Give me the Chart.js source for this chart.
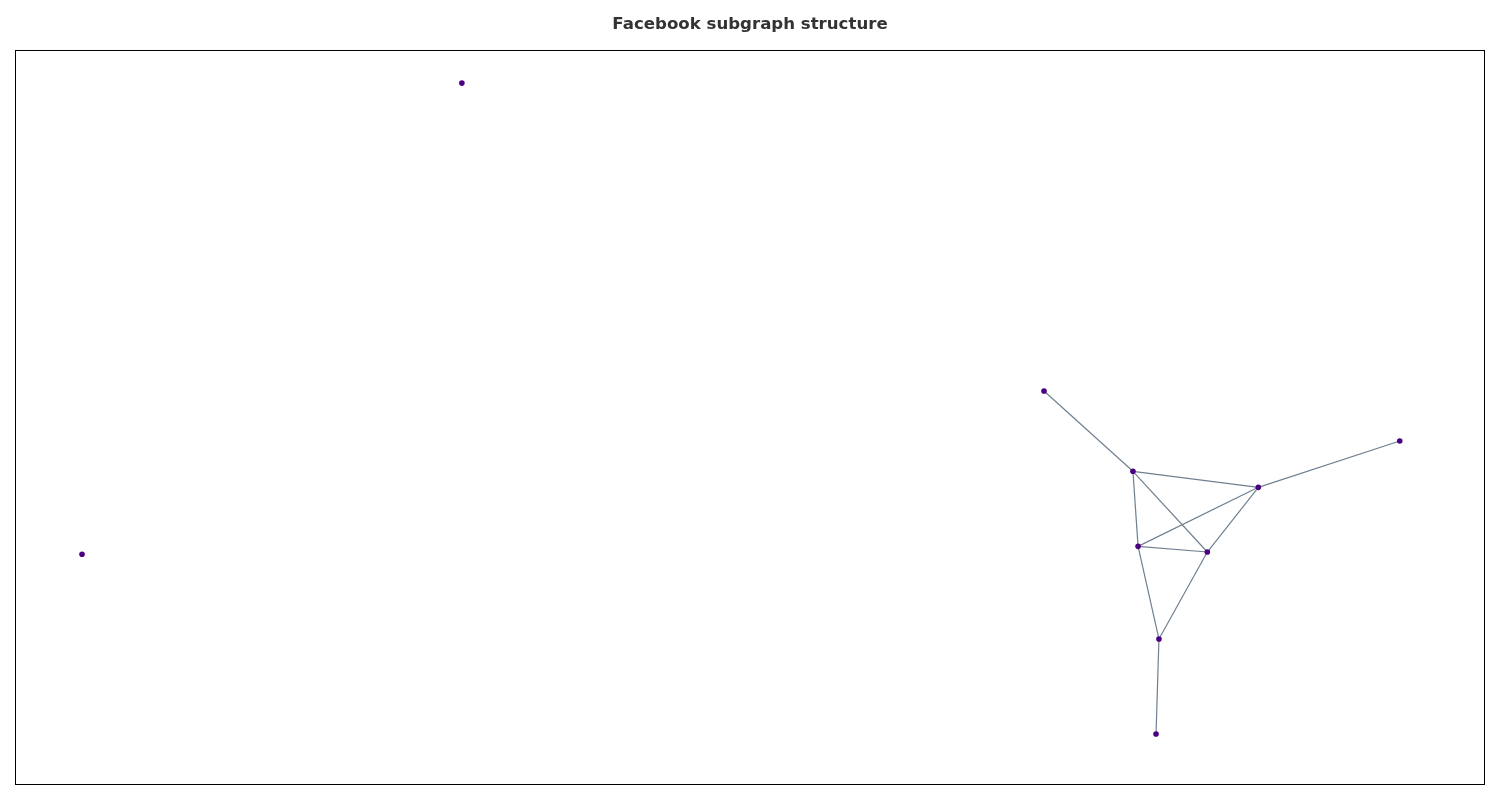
<!DOCTYPE html>
<html>
<head>
<meta charset="utf-8">
<script src="https://cdn.jsdelivr.net/npm/chart.js@4/dist/chart.umd.min.js"></script>
<style>
html,body{margin:0;padding:0;background:#fff;}
#wrap{width:1500px;height:800px;}
</style>
</head>
<body>
<div id="wrap"><canvas id="c" width="1500" height="800"></canvas></div>
<script>
// Node layout positions (normalized layout coordinates)
const nodeIds = ["A","B","C","D","E","F","G","H","I","J"];
const nodeX = [0.304, 0.0456, 0.700, 0.7605, 0.8458, 0.942, 0.7640, 0.8111, 0.7782, 0.7762];
const nodeY = [0.955, 0.314, 0.536, 0.4268, 0.4050, 0.468, 0.3247, 0.3170, 0.1986, 0.0694];
// Edges as pairs of node ids
const edgeFrom = ["C","D","D","D","E","E","E","G","G","H","I"];
const edgeTo   = ["D","E","G","H","F","G","H","H","I","I","J"];

const idx = id => nodeIds.indexOf(id);
const edgeDatasets = edgeFrom.map((f, i) => ({
  type: 'line',
  data: [{x: nodeX[idx(f)], y: nodeY[idx(f)]}, {x: nodeX[idx(edgeTo[i])], y: nodeY[idx(edgeTo[i])]}],
  borderColor: '#708090',
  borderWidth: 1.2,
  pointRadius: 0,
  fill: false,
  showLine: true,
  order: 2
}));
const nodeDataset = {
  type: 'scatter',
  data: nodeIds.map((id, i) => ({x: nodeX[i], y: nodeY[i]})),
  backgroundColor: '#4b0082',
  borderColor: '#4b0082',
  borderWidth: 0,
  pointRadius: 2.8,
  order: 1
};

const framePlugin = {
  id: 'frame',
  afterDraw(chart) {
    const a = chart.chartArea, ctx = chart.ctx;
    ctx.save();
    ctx.strokeStyle = '#000';
    ctx.lineWidth = 1;
    ctx.strokeRect(Math.round(a.left) + 0.5, Math.round(a.top) + 0.5, Math.round(a.right - a.left) - 1, Math.round(a.bottom - a.top) - 1);
    ctx.restore();
  }
};

new Chart(document.getElementById('c'), {
  type: 'scatter',
  data: { datasets: [...edgeDatasets, nodeDataset] },
  options: {
    responsive: false,
    animation: false,
    events: [],
    layout: { padding: { left: 15, right: 15, bottom: 15, top: 0 } },
    scales: {
      x: { type: 'linear', min: 0, max: 1, display: false },
      y: { type: 'linear', min: 0, max: 1, display: false }
    },
    plugins: {
      legend: { display: false },
      tooltip: { enabled: false },
      title: {
        display: true,
        text: 'Facebook subgraph structure',
        color: '#333333',
        font: { family: 'DejaVu Sans', size: 16.6, weight: 'bold', lineHeight: 1.2 },
        padding: { top: 14.5, bottom: 15.58 }
      }
    }
  },
  plugins: [framePlugin]
});
</script>
</body>
</html>
